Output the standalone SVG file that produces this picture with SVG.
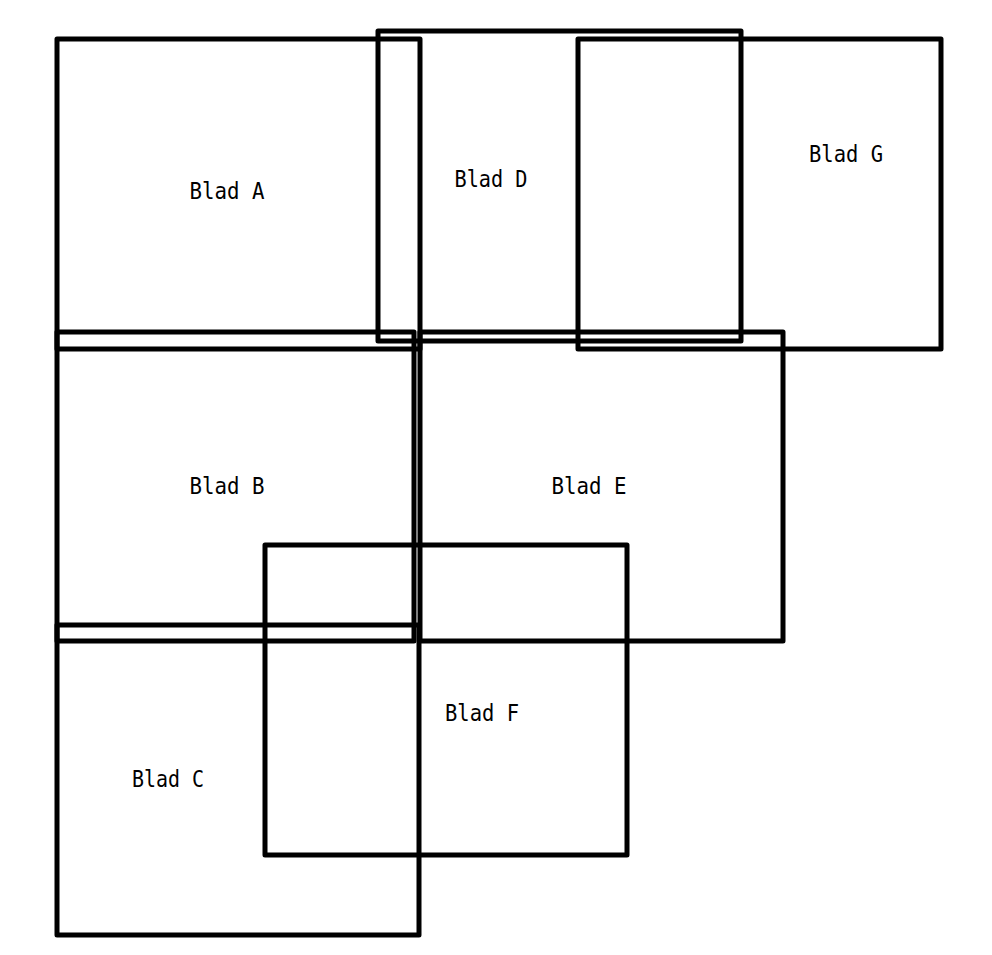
<svg xmlns="http://www.w3.org/2000/svg" width="992" height="955" viewBox="0 0 992 955">
<style>
rect.s{fill:none;stroke:#000;stroke-width:5;stroke-linejoin:round}
text{font-family:"DejaVu Sans Mono","Liberation Mono",monospace;font-size:23.5px;fill:#000;text-anchor:middle}
</style>
<rect width="992" height="955" fill="#fff"/>
<g id="connectors"></g>
<g id="blad-a"><rect class="s" x="57" y="39" width="363" height="310"/><text x="227" y="199" textLength="75" lengthAdjust="spacingAndGlyphs">Blad A</text></g>
<g id="blad-d"><rect class="s" x="378" y="31" width="363" height="310"/><text x="491" y="187" textLength="73" lengthAdjust="spacingAndGlyphs">Blad D</text></g>
<g id="blad-g"><rect class="s" x="578" y="39" width="363" height="310"/><text x="846" y="162" textLength="74" lengthAdjust="spacingAndGlyphs">Blad G</text></g>
<g id="blad-b"><rect class="s" x="57" y="332" width="357" height="309"/><text x="227" y="494" textLength="75" lengthAdjust="spacingAndGlyphs">Blad B</text></g>
<g id="blad-e"><rect class="s" x="420" y="332" width="363" height="309"/><text x="589" y="494" textLength="75" lengthAdjust="spacingAndGlyphs">Blad E</text></g>
<g id="blad-c"><rect class="s" x="57" y="625" width="362" height="310"/><text x="168" y="787" textLength="72" lengthAdjust="spacingAndGlyphs">Blad C</text></g>
<g id="blad-f"><rect class="s" x="265" y="545" width="362" height="310"/><text x="482" y="721" textLength="74" lengthAdjust="spacingAndGlyphs">Blad F</text></g>
</svg>
